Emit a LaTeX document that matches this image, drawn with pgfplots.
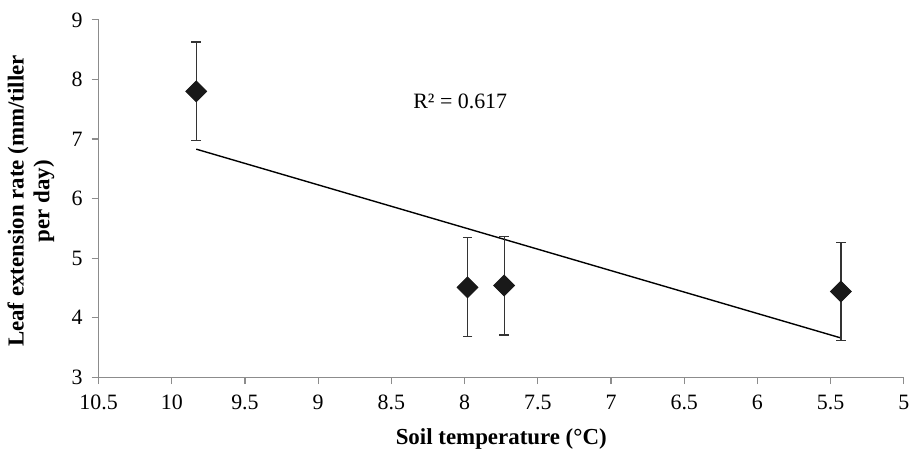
\documentclass[border=0pt]{standalone}
\usepackage{fontspec}
\setmainfont{Liberation Serif}
\usepackage{pgfplots}
\pgfplotsset{compat=1.18}
\begin{document}
\begin{tikzpicture}
\begin{axis}[
  scale only axis,
  width=404.5pt, height=179.5pt,
  x dir=reverse,
  xmin=5, xmax=10.5,
  ymin=3, ymax=9,
  xtick distance=0.5,
  ytick distance=1,
  axis lines*=left,
  axis line style={draw=gray!90, line width=0.6pt},
  tick style={draw=gray!90, line width=0.6pt},
  tick align=outside,
  major tick length=3.5pt,
  /pgf/number format/assume math mode=true,
  /pgf/number format/fixed,
  ticklabel style={font=\fontsize{11}{13}\selectfont},
  xticklabel style={yshift=-2pt},
  yticklabel style={xshift=-1pt},
  xlabel={Soil temperature (°C)},
  xlabel style={font=\fontsize{11.5}{14}\selectfont\bfseries, at={(axis description cs:0.5,-0.173)}, anchor=center},
  ylabel={Leaf extension rate (mm/tiller\\per day)},
  ylabel style={font=\fontsize{11.5}{13}\selectfont\bfseries, align=center, at={(axis description cs:-0.084,0.493)}, anchor=center},
  clip=false,
]
\path (axis description cs:-0.1224,-0.2061) rectangle (axis description cs:1.0099,1.0557);
\addplot[black, line width=0.7pt] coordinates {(9.833,6.83) (5.43,3.66)};
\addplot[
  only marks, mark=square*, mark size=3.7pt,
  mark options={rotate=45, fill=black!90, draw=black!90},
  error bars/.cd, y dir=both, y explicit,
  error bar style={draw=black!80, line width=0.6pt},
  error mark options={rotate=90, mark size=2.4pt, draw=black!80, line width=0.6pt},
] coordinates {
  (9.833,7.80) +- (0,0.83)
  (7.98,4.51) +- (0,0.83)
  (7.73,4.54) +- (0,0.83)
  (5.43,4.44) +- (0,0.82)
};
\node[font=\fontsize{11}{13}\selectfont] at (axis cs:8.03,7.63) {R² = 0.617};
\end{axis}
\end{tikzpicture}
\end{document}
